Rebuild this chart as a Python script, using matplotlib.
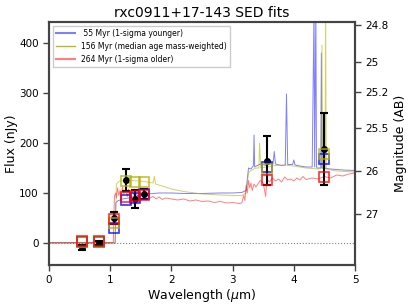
import numpy as np
import matplotlib
matplotlib.use("Agg")
import matplotlib.pyplot as plt

# model spectra (wavelength in micron, flux in nJy)
young_wave = [0.0, 1.08, 1.09, 1.12, 1.2, 1.3, 1.4, 1.5, 1.6, 1.7, 1.8, 2.0, 2.2, 2.5, 2.8,
              3.0, 3.15, 3.22, 3.26, 3.3, 3.34, 3.35, 3.36, 3.45, 3.55, 3.62, 3.66, 3.68, 3.70,
              3.8, 3.86, 3.88, 3.90, 3.98, 4.0, 4.02, 4.1, 4.2, 4.3, 4.33, 4.34, 4.36, 4.37,
              4.38, 4.44, 4.45, 4.46, 4.6, 4.8, 5.0]
young_flux = [0, 0, 80, 84, 88, 90, 93, 96, 98, 99, 100, 100, 99, 99, 100,
              100, 101, 105, 150, 148, 155, 216, 152, 158, 155, 160, 158, 183, 158,
              155, 156, 298, 157, 157, 166, 156, 154, 152, 152, 470, 152, 470, 152,
              150, 150, 380, 150, 148, 146, 145]

mid_wave = [0.0, 1.08, 1.10, 1.15, 1.3, 1.5, 1.65, 1.70, 1.72, 1.74, 1.9, 2.0, 2.2, 2.5,
            2.8, 3.0, 3.15, 3.22, 3.26, 3.3, 3.38, 3.43, 3.44, 3.46, 3.55, 3.7, 3.85, 4.0,
            4.2, 4.4, 4.45, 4.46, 4.47, 4.51, 4.52, 4.53, 4.7, 5.0]
mid_flux = [0, 0, 118, 124, 125, 124, 121, 120, 133, 118, 112, 108, 103, 98,
            96, 95, 95, 100, 140, 145, 150, 150, 200, 150, 152, 155, 156, 154,
            150, 148, 150, 396, 150, 150, 470, 148, 144, 142]

old_wave = [0.0, 1.05, 1.06, 1.07, 1.09, 1.1, 1.12, 1.14, 1.16, 1.18, 1.2, 1.22, 1.25, 1.28,
            1.3, 1.33, 1.36, 1.4, 1.43, 1.46, 1.5, 1.55, 1.6, 1.65, 1.7, 1.75, 1.8, 1.85,
            1.9, 2.0, 2.1, 2.2, 2.3, 2.4, 2.5, 2.6, 2.7, 2.8, 2.9, 3.0, 3.1, 3.15, 3.18,
            3.2, 3.22, 3.24, 3.26, 3.28, 3.3, 3.32, 3.35, 3.38, 3.45, 3.5, 3.54, 3.56, 3.6,
            3.65, 3.7, 3.75, 3.8, 3.85, 3.9, 3.95, 4.0, 4.05, 4.1, 4.15, 4.2, 4.3, 4.4,
            4.5, 4.6, 4.7, 4.8, 4.9, 5.0]
old_flux = [1, 1, 60, 95, 100, 90, 110, 95, 105, 92, 112, 98, 105, 93,
            108, 96, 104, 92, 100, 90, 98, 94, 96, 90, 93, 88, 92, 87,
            90, 88, 86, 88, 84, 86, 83, 84, 81, 83, 80, 81, 79, 80, 95,
            85, 115, 100, 125, 110, 120, 105, 118, 112, 125, 120, 93, 128, 122,
            130, 124, 128, 122, 132, 126, 128, 124, 130, 126, 133, 127, 130, 128,
            133, 130, 136, 134, 138, 140]

# observed photometry
phot_wave = [0.54, 0.81, 1.06, 1.25, 1.40, 1.55, 3.56, 4.50]
phot_flux = [-9, 0, 50, 126, 88, 98, 165, 188]
phot_err = [5, 4, 12, 22, 18, 10, 50, 73]

# model photometry
young_phot = [2, 1, 30, 86, 90, 98, 152, 168]
mid_phot = [2, 1, 40, 123, 121, 121, 149, 178]
old_phot = [3, 3, 48, 91, 94, 96, 126, 133]

labels = [" 55 Myr (1-sigma younger)", "156 Myr (median age mass-weighted)", "264 Myr (1-sigma older)"]
mag_ticks = [24.8, 25, 25.2, 25.5, 26, 27]
mag_labels = ["24.8", "25", "25.2", "25.5", "26", "27"]

c_young = "b"
c_mid = (0.7, 0.7, 0.0)
c_old = "r"

fig = plt.figure(figsize=(4.09, 3.07), dpi=100)
ax = fig.add_axes([0.12, 0.137, 0.748, 0.791])

ax.axhline(0, color="gray", ls=":", lw=0.8)
l1, = ax.plot(young_wave, young_flux, color=c_young, alpha=0.5, lw=0.7)
l2, = ax.plot(mid_wave, mid_flux, color=c_mid, alpha=0.6, lw=0.7)
l3, = ax.plot(old_wave, old_flux, color=c_old, alpha=0.5, lw=0.7)

ax.errorbar(phot_wave, phot_flux, yerr=phot_err, fmt="o", color="k", ms=4,
            elinewidth=1.5, capsize=3, capthick=1.5, zorder=4)
for vals, c in [(young_phot, c_young), (mid_phot, c_mid), (old_phot, c_old)]:
    ax.plot(phot_wave, vals, "s", mfc="none", mec=c, mew=1.2, ms=7, alpha=0.8, zorder=5)

ax.set_xlim(0, 5)
ax.set_ylim(-44, 442)
ax.set_xticks([0, 1, 2, 3, 4, 5])
ax.set_yticks([0, 100, 200, 300, 400])
ax.set_xlabel(r"Wavelength ($\mu$m)", fontsize=9, labelpad=1)
ax.set_ylabel("Flux (nJy)", fontsize=9, labelpad=1)
ax.set_title("rxc0911+17-143 SED fits", fontsize=10, pad=4)
ax.tick_params(labelsize=7.5, length=4, width=1, color="#444")

h1, = ax.plot([], [], color=c_young, alpha=0.5, lw=1.5)
h2, = ax.plot([], [], color=c_mid, alpha=0.9, lw=1.0)
h3, = ax.plot([], [], color=c_old, alpha=0.5, lw=1.5)
ax.legend([h1, h2, h3], labels, loc="upper left", fontsize=5.5, fancybox=False,
          framealpha=1, edgecolor="#ccc", handlelength=2.5, borderpad=0.4)

ax2 = ax.twinx()
ax2.set_ylim(ax.get_ylim())
ax2.set_yticks([10 ** ((31.4 - m) / 2.5) for m in mag_ticks])
ax2.set_yticklabels(mag_labels)
ax2.set_ylabel("Magnitude (AB)", fontsize=9)
ax2.tick_params(labelsize=7.5, length=4, width=1, color="#444")

for a in (ax, ax2):
    for s in a.spines.values():
        s.set_linewidth(1.5)
        s.set_color("#444")

fig.savefig("out.png", dpi=100)
